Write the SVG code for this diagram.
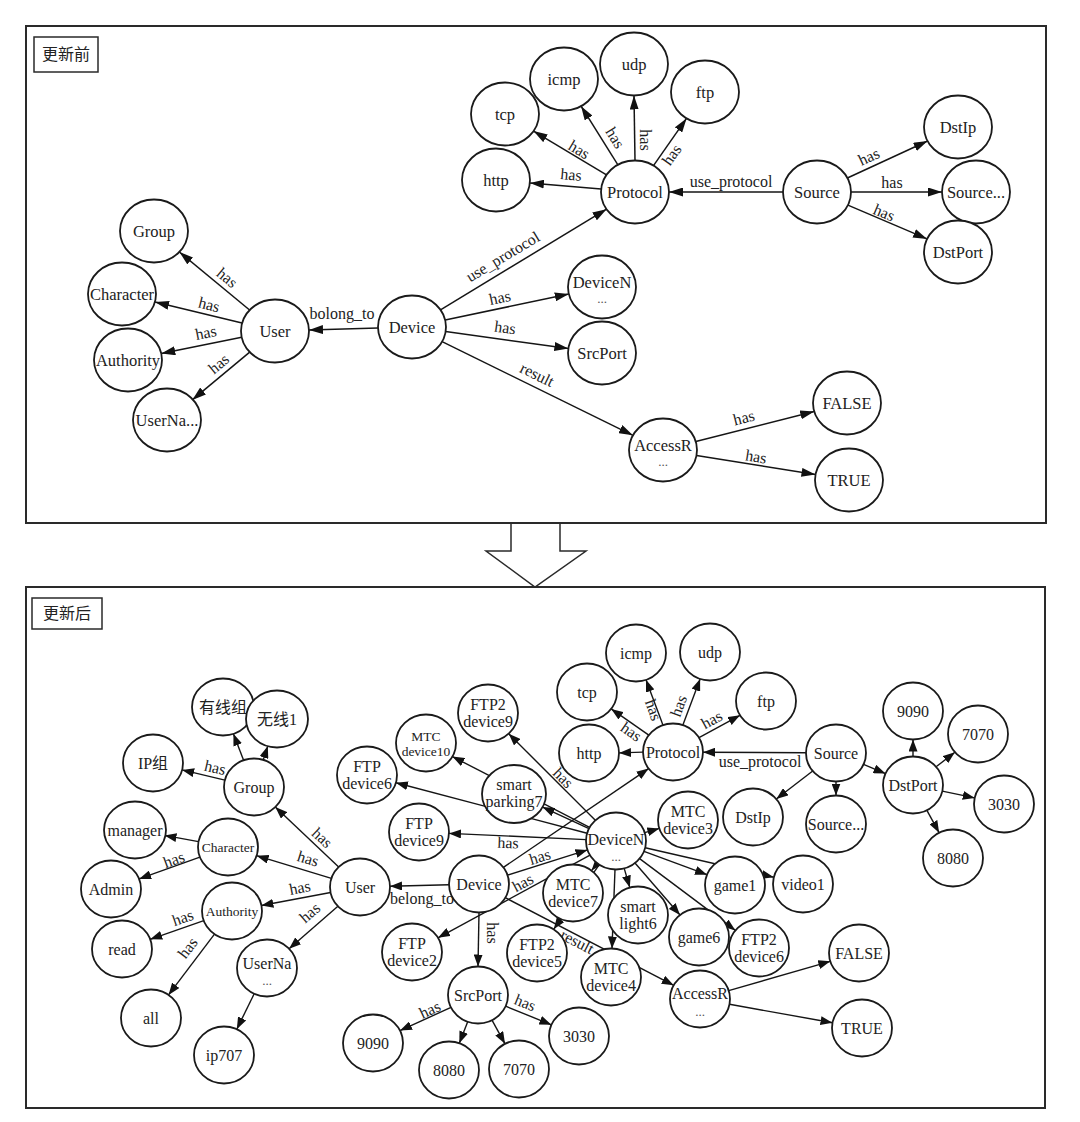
<svg xmlns="http://www.w3.org/2000/svg" width="1080" height="1122" viewBox="0 0 1080 1122">
<defs>
<marker id="ah" markerUnits="userSpaceOnUse" markerWidth="14" markerHeight="9" refX="14" refY="4.5" orient="auto"><path d="M0,0 L14,4.5 L0,9 Z" fill="#111"/></marker>
<marker id="ah2" markerUnits="userSpaceOnUse" markerWidth="12" markerHeight="9" refX="12" refY="4.5" orient="auto"><path d="M0,0 L12,4.5 L0,9 Z" fill="#111"/></marker>
</defs>
<style>
.panel{fill:none;stroke:#2a2a2a;stroke-width:2}
.tag{fill:#fff;stroke:#2a2a2a;stroke-width:1.5}
.tagt{font-family:"Noto Sans CJK SC",sans-serif;font-size:16px;fill:#222;text-anchor:middle}
.n ellipse{fill:#fff;stroke:#1a1a1a;stroke-width:1.8}
.n text{font-family:"Liberation Serif","Noto Sans CJK SC",serif;font-size:16px;fill:#222;text-anchor:middle}
.top .n text{font-size:16.5px}
.n text.sm{font-size:13.5px}
.n text.dots{font-size:13px;fill:#555}
.et line{stroke:#151515;stroke-width:1.5;marker-end:url(#ah)}
.eb line{stroke:#151515;stroke-width:1.4;marker-end:url(#ah2)}
.lbl text{font-family:"Liberation Serif",serif;font-size:16px;fill:#222;text-anchor:middle}
.bigarrow{fill:none;stroke:#2a2a2a;stroke-width:1.5}
</style>
<rect width="1080" height="1122" fill="#fff"/>

<!-- panels -->
<rect class="panel" x="26" y="26" width="1020" height="497"/>
<rect class="panel" x="26" y="587" width="1019" height="521"/>
<polyline class="bigarrow" points="511,523 511,551 486,551 535,587 586,551 560,551 560,523"/>
<g id="tag-before"><rect class="tag" x="34" y="37" width="64" height="35"/><text class="tagt" x="66" y="60">更新前</text></g>
<g id="tag-after"><rect class="tag" x="32" y="598" width="70" height="31"/><text class="tagt" x="67" y="619">更新后</text></g>

<!-- ================= TOP PANEL ================= -->
<g class="top">
<g id="top-connectors" class="et">
<line x1="378" y1="328" x2="309" y2="330"/>
<line x1="249.6" y1="310" x2="179.4" y2="252"/>
<line x1="242" y1="323" x2="155" y2="302"/>
<line x1="241.7" y1="337.3" x2="161.3" y2="353.5"/>
<line x1="249.7" y1="352.1" x2="192.3" y2="399.9"/>
<line x1="440.5" y1="309.8" x2="606.5" y2="209.2"/>
<line x1="445.2" y1="320" x2="568.8" y2="294"/>
<line x1="445.6" y1="331.6" x2="568.4" y2="348.4"/>
<line x1="442.1" y1="341.7" x2="632.9" y2="435.3"/>
<line x1="601.1" y1="189.1" x2="529.9" y2="182.9"/>
<line x1="606.5" y1="174.9" x2="533.5" y2="131.1"/>
<line x1="617.9" y1="164.8" x2="581.1" y2="106.2"/>
<line x1="635" y1="160.5" x2="634" y2="95.5"/>
<line x1="653.5" y1="165.6" x2="686.5" y2="118.4"/>
<line x1="783" y1="192" x2="669" y2="192"/>
<line x1="847.4" y1="178" x2="927.6" y2="141"/>
<line x1="851" y1="192" x2="942" y2="192"/>
<line x1="847.9" y1="205.1" x2="927.1" y2="238.9"/>
<line x1="695.8" y1="441.6" x2="814.2" y2="411.4"/>
<line x1="696.5" y1="455.4" x2="815.5" y2="474.6"/>
</g>
<g id="top-edge-labels" class="lbl">
<text transform="translate(342,314)" y="5">bolong_to</text>
<text transform="translate(227,278) rotate(40)" y="5">has</text>
<text transform="translate(209,305) rotate(14)" y="5">has</text>
<text transform="translate(206,333) rotate(-11)" y="5">has</text>
<text transform="translate(219,364) rotate(-40)" y="5">has</text>
<text transform="translate(503,257) rotate(-31)" y="5">use_protocol</text>
<text transform="translate(500,298) rotate(-12)" y="5">has</text>
<text transform="translate(505,328) rotate(8)" y="5">has</text>
<text transform="translate(537,375) rotate(26)" y="5">result</text>
<text transform="translate(571,175) rotate(5)" y="5">has</text>
<text transform="translate(579,150) rotate(31)" y="5">has</text>
<text transform="translate(615,138) rotate(58)" y="5">has</text>
<text transform="translate(645,140) rotate(90)" y="5">has</text>
<text transform="translate(672,155) rotate(-55)" y="5">has</text>
<text transform="translate(731,182)" y="5">use_protocol</text>
<text transform="translate(869,157) rotate(-25)" y="5">has</text>
<text transform="translate(892,183)" y="5">has</text>
<text transform="translate(884,213) rotate(23)" y="5">has</text>
<text transform="translate(744,418) rotate(-14)" y="5">has</text>
<text transform="translate(756,457) rotate(9)" y="5">has</text>
</g>
<g id="t-group" class="n"><ellipse cx="154" cy="231" rx="34" ry="31.5"/><text x="154" y="237">Group</text></g>
<g id="t-character" class="n"><ellipse cx="122" cy="294" rx="34" ry="31.5"/><text x="122" y="300">Character</text></g>
<g id="t-authority" class="n"><ellipse cx="128" cy="360" rx="34" ry="31.5"/><text x="128" y="366">Authority</text></g>
<g id="t-username" class="n"><ellipse cx="167" cy="420" rx="34" ry="31.5"/><text x="167" y="426">UserNa...</text></g>
<g id="t-user" class="n"><ellipse cx="275" cy="331" rx="34" ry="31.5"/><text x="275" y="337">User</text></g>
<g id="t-device" class="n"><ellipse cx="412" cy="327" rx="34" ry="31.5"/><text x="412" y="333">Device</text></g>
<g id="t-devicen" class="n"><ellipse cx="602" cy="287" rx="34" ry="31.5"/><text x="602" y="288">DeviceN</text><text class="dots" x="602" y="303">...</text></g>
<g id="t-srcport" class="n"><ellipse cx="602" cy="353" rx="34" ry="31.5"/><text x="602" y="359">SrcPort</text></g>
<g id="t-http" class="n"><ellipse cx="496" cy="180" rx="34" ry="31.5"/><text x="496" y="186">http</text></g>
<g id="t-tcp" class="n"><ellipse cx="505" cy="114" rx="34" ry="31.5"/><text x="505" y="120">tcp</text></g>
<g id="t-icmp" class="n"><ellipse cx="564" cy="79" rx="34" ry="31.5"/><text x="564" y="85">icmp</text></g>
<g id="t-udp" class="n"><ellipse cx="634" cy="64" rx="34" ry="31.5"/><text x="634" y="70">udp</text></g>
<g id="t-ftp" class="n"><ellipse cx="705" cy="92" rx="34" ry="31.5"/><text x="705" y="98">ftp</text></g>
<g id="t-protocol" class="n"><ellipse cx="635" cy="192" rx="34" ry="31.5"/><text x="635" y="198">Protocol</text></g>
<g id="t-source" class="n"><ellipse cx="817" cy="192" rx="34" ry="31.5"/><text x="817" y="198">Source</text></g>
<g id="t-dstip" class="n"><ellipse cx="958" cy="127" rx="34" ry="31.5"/><text x="958" y="133">DstIp</text></g>
<g id="t-sourcex" class="n"><ellipse cx="976" cy="192" rx="34" ry="31.5"/><text x="976" y="198">Source...</text></g>
<g id="t-dstport" class="n"><ellipse cx="958" cy="252" rx="34" ry="31.5"/><text x="958" y="258">DstPort</text></g>
<g id="t-accessr" class="n"><ellipse cx="663" cy="450" rx="34" ry="31.5"/><text x="663" y="451">AccessR</text><text class="dots" x="663" y="466">...</text></g>
<g id="t-false" class="n"><ellipse cx="847" cy="403" rx="34" ry="31.5"/><text x="847" y="409">FALSE</text></g>
<g id="t-true" class="n"><ellipse cx="849" cy="480" rx="34" ry="31.5"/><text x="849" y="486">TRUE</text></g>
</g>

<!-- ================= BOTTOM PANEL ================= -->
<g class="bottom">
<g id="bottom-connectors" class="eb">
<line x1="449" y1="884.8" x2="390" y2="886.2"/>
<line x1="503.4" y1="867.4" x2="648.6" y2="768.6"/>
<line x1="507.5" y1="875.1" x2="587.5" y2="849.9"/>
<line x1="479" y1="912.5" x2="478" y2="966.5"/>
<line x1="505.3" y1="897.7" x2="673.7" y2="985.3"/>
<line x1="595.3" y1="820.3" x2="508.7" y2="733.7"/>
<line x1="589.6" y1="827.4" x2="452.4" y2="756.6"/>
<line x1="587.1" y1="833.3" x2="395.9" y2="782.7"/>
<line x1="589" y1="828.6" x2="542.5" y2="807.1"/>
<line x1="586" y1="839.6" x2="449" y2="833.4"/>
<line x1="644.7" y1="832.6" x2="659.3" y2="828.4"/>
<line x1="644" y1="851.3" x2="707" y2="874.7"/>
<line x1="645.2" y1="847.7" x2="773.8" y2="877.3"/>
<line x1="624.2" y1="868.4" x2="629.8" y2="887.6"/>
<line x1="615" y1="869.5" x2="612" y2="948.5"/>
<line x1="635" y1="863" x2="680" y2="915"/>
<line x1="639.6" y1="858.6" x2="735.4" y2="930.4"/>
<line x1="597.5" y1="863.4" x2="591.5" y2="870.6"/>
<line x1="599.3" y1="864.7" x2="553.7" y2="929.3"/>
<line x1="590" y1="855.2" x2="438" y2="937.8"/>
<line x1="338.7" y1="866.9" x2="275.3" y2="807.1"/>
<line x1="331.4" y1="878.3" x2="256.6" y2="855.7"/>
<line x1="330.6" y1="892.5" x2="261.4" y2="905.5"/>
<line x1="337.9" y1="906.3" x2="289.1" y2="948.7"/>
<line x1="224.9" y1="780.1" x2="182.1" y2="769.9"/>
<line x1="243.6" y1="760.3" x2="233.4" y2="733.7"/>
<line x1="263.2" y1="759.9" x2="267.8" y2="746.1"/>
<line x1="198.5" y1="841.6" x2="164.5" y2="835.4"/>
<line x1="199.9" y1="857.1" x2="139.1" y2="878.9"/>
<line x1="203.8" y1="920.7" x2="150.2" y2="939.3"/>
<line x1="214.5" y1="934.1" x2="168.5" y2="994.9"/>
<line x1="254.2" y1="993.8" x2="236.8" y2="1029.2"/>
<line x1="451" y1="1007.4" x2="400" y2="1030.6"/>
<line x1="467.7" y1="1021.8" x2="459.3" y2="1043.2"/>
<line x1="492" y1="1020.2" x2="505" y2="1043.8"/>
<line x1="505.6" y1="1006.2" x2="551.4" y2="1024.8"/>
<line x1="728.7" y1="990.7" x2="830.3" y2="961.3"/>
<line x1="729.5" y1="1004.3" x2="832.5" y2="1022.7"/>
<line x1="643" y1="752.1" x2="619" y2="752.9"/>
<line x1="648.8" y1="735.1" x2="611.2" y2="708.9"/>
<line x1="663" y1="725.2" x2="646" y2="679.8"/>
<line x1="682.9" y1="725.1" x2="700.1" y2="678.9"/>
<line x1="699" y1="737.7" x2="740" y2="715.3"/>
<line x1="806" y1="752.8" x2="703" y2="752.2"/>
<line x1="812.7" y1="771" x2="776.3" y2="799"/>
<line x1="836" y1="781.5" x2="836" y2="795.5"/>
<line x1="863.5" y1="764.4" x2="885.5" y2="773.6"/>
<line x1="913" y1="756.5" x2="913" y2="739.5"/>
<line x1="936.1" y1="766.8" x2="954.9" y2="752.2"/>
<line x1="942.3" y1="791.1" x2="974.7" y2="797.9"/>
<line x1="926.9" y1="810.3" x2="939.1" y2="832.7"/>
</g>
<g id="bottom-edge-labels" class="lbl">
<text transform="translate(422,899)" y="5">belong_to</text>
<text transform="translate(540,857) rotate(-17)" y="5">has</text>
<text transform="translate(508,843) rotate(2)" y="5">has</text>
<text transform="translate(523,883) rotate(-28.5)" y="5">has</text>
<text transform="translate(492,933) rotate(90)" y="5">has</text>
<text transform="translate(577,942) rotate(27.5)" y="5">result</text>
<text transform="translate(563,778) rotate(45)" y="5">has</text>
<text transform="translate(322,838) rotate(43)" y="5">has</text>
<text transform="translate(308,859) rotate(17)" y="5">has</text>
<text transform="translate(300,888) rotate(-11)" y="5">has</text>
<text transform="translate(310,913) rotate(-41)" y="5">has</text>
<text transform="translate(215,768) rotate(13)" y="5">has</text>
<text transform="translate(174,860) rotate(-20)" y="5">has</text>
<text transform="translate(183,918) rotate(-19)" y="5">has</text>
<text transform="translate(188,948) rotate(-53)" y="5">has</text>
<text transform="translate(430,1010) rotate(-25)" y="5">has</text>
<text transform="translate(525,1003) rotate(22)" y="5">has</text>
<text transform="translate(631,732) rotate(35)" y="5">has</text>
<text transform="translate(653,710) rotate(70)" y="5">has</text>
<text transform="translate(679,706) rotate(-70)" y="5">has</text>
<text transform="translate(712,720) rotate(-29)" y="5">has</text>
<text transform="translate(760,762)" y="5">use_protocol</text>
</g>
<g id="b-youxianzu" class="n"><ellipse cx="223" cy="707" rx="31" ry="28.5"/><text x="223" y="713">有线组</text></g>
<g id="b-wuxian1" class="n"><ellipse cx="277" cy="719" rx="31" ry="28.5"/><text x="277" y="725">无线1</text></g>
<g id="b-ipzu" class="n"><ellipse cx="153" cy="763" rx="30" ry="28.5"/><text x="153" y="769">IP组</text></g>
<g id="b-group" class="n"><ellipse cx="254" cy="787" rx="30" ry="28.5"/><text x="254" y="793">Group</text></g>
<g id="b-manager" class="n"><ellipse cx="135" cy="830" rx="31" ry="28.5"/><text x="135" y="836">manager</text></g>
<g id="b-character" class="n"><ellipse cx="228" cy="847" rx="30" ry="28.5"/><text class="sm" x="228" y="852">Character</text></g>
<g id="b-admin" class="n"><ellipse cx="111" cy="889" rx="30" ry="28.5"/><text x="111" y="895">Admin</text></g>
<g id="b-user" class="n"><ellipse cx="360" cy="887" rx="30" ry="28.5"/><text x="360" y="893">User</text></g>
<g id="b-authority" class="n"><ellipse cx="232" cy="911" rx="30" ry="28.5"/><text class="sm" x="232" y="916">Authority</text></g>
<g id="b-read" class="n"><ellipse cx="122" cy="949" rx="30" ry="28.5"/><text x="122" y="955">read</text></g>
<g id="b-all" class="n"><ellipse cx="151" cy="1018" rx="30" ry="28.5"/><text x="151" y="1024">all</text></g>
<g id="b-username" class="n"><ellipse cx="267" cy="968" rx="30" ry="28.5"/><text x="267" y="969">UserNa</text><text class="dots" x="267" y="985">...</text></g>
<g id="b-ip707" class="n"><ellipse cx="224" cy="1055" rx="30" ry="28.5"/><text x="224" y="1061">ip707</text></g>
<g id="b-device" class="n"><ellipse cx="479" cy="884" rx="30" ry="28.5"/><text x="479" y="890">Device</text></g>
<g id="b-ftpdevice2" class="n"><ellipse cx="412" cy="952" rx="30" ry="28.5"/><text x="412" y="949">FTP</text><text x="412" y="966">device2</text></g>
<g id="b-srcport" class="n"><ellipse cx="478" cy="995" rx="30" ry="28.5"/><text x="478" y="1001">SrcPort</text></g>
<g id="b-s9090" class="n"><ellipse cx="373" cy="1043" rx="30" ry="28.5"/><text x="373" y="1049">9090</text></g>
<g id="b-s8080" class="n"><ellipse cx="449" cy="1070" rx="30" ry="28.5"/><text x="449" y="1076">8080</text></g>
<g id="b-s7070" class="n"><ellipse cx="519" cy="1069" rx="30" ry="28.5"/><text x="519" y="1075">7070</text></g>
<g id="b-s3030" class="n"><ellipse cx="579" cy="1036" rx="30" ry="28.5"/><text x="579" y="1042">3030</text></g>
<g id="b-ftp2device5" class="n"><ellipse cx="537" cy="953" rx="30" ry="28.5"/><text x="537" y="950">FTP2</text><text x="537" y="967">device5</text></g>
<g id="b-mtcdevice7" class="n"><ellipse cx="573" cy="893" rx="30" ry="28.5"/><text x="573" y="890">MTC</text><text x="573" y="907">device7</text></g>
<g id="b-mtcdevice4" class="n"><ellipse cx="611" cy="977" rx="30" ry="28.5"/><text x="611" y="974">MTC</text><text x="611" y="991">device4</text></g>
<g id="b-smartlight6" class="n"><ellipse cx="638" cy="915" rx="30" ry="28.5"/><text x="638" y="912">smart</text><text x="638" y="929">light6</text></g>
<g id="b-game6" class="n"><ellipse cx="699" cy="937" rx="30" ry="28.5"/><text x="699" y="943">game6</text></g>
<g id="b-ftp2device6" class="n"><ellipse cx="759" cy="948" rx="30" ry="28.5"/><text x="759" y="945">FTP2</text><text x="759" y="962">device6</text></g>
<g id="b-accessr" class="n"><ellipse cx="700" cy="999" rx="30" ry="28.5"/><text x="700" y="999">AccessR</text><text class="dots" x="700" y="1016">...</text></g>
<g id="b-false" class="n"><ellipse cx="859" cy="953" rx="30" ry="28.5"/><text x="859" y="959">FALSE</text></g>
<g id="b-true" class="n"><ellipse cx="862" cy="1028" rx="30" ry="28.5"/><text x="862" y="1034">TRUE</text></g>
<g id="b-smartparking7" class="n"><ellipse cx="514" cy="794" rx="32" ry="29"/><text x="514" y="790">smart</text><text x="514" y="807">parking7</text></g>
<g id="b-devicen" class="n"><ellipse cx="616" cy="841" rx="30" ry="28.5"/><text x="616" y="844.5">DeviceN</text><text class="dots" x="616" y="861">...</text></g>
<g id="b-mtcdevice3" class="n"><ellipse cx="688" cy="820" rx="30" ry="28.5"/><text x="688" y="817">MTC</text><text x="688" y="834">device3</text></g>
<g id="b-game1" class="n"><ellipse cx="735" cy="885" rx="30" ry="28.5"/><text x="735" y="891">game1</text></g>
<g id="b-video1" class="n"><ellipse cx="803" cy="884" rx="30" ry="28.5"/><text x="803" y="890">video1</text></g>
<g id="b-ftpdevice9" class="n"><ellipse cx="419" cy="832" rx="30" ry="28.5"/><text x="419" y="829">FTP</text><text x="419" y="846">device9</text></g>
<g id="b-ftpdevice6" class="n"><ellipse cx="367" cy="775" rx="30" ry="28.5"/><text x="367" y="772">FTP</text><text x="367" y="789">device6</text></g>
<g id="b-mtcdevice10" class="n"><ellipse cx="426" cy="743" rx="30" ry="28.5"/><text class="sm" x="426" y="741">MTC</text><text class="sm" x="426" y="756">device10</text></g>
<g id="b-ftp2device9" class="n"><ellipse cx="488" cy="713" rx="30" ry="28.5"/><text x="488" y="710">FTP2</text><text x="488" y="727">device9</text></g>
<g id="b-http" class="n"><ellipse cx="589" cy="753" rx="30" ry="28.5"/><text x="589" y="759">http</text></g>
<g id="b-tcp" class="n"><ellipse cx="587" cy="692" rx="30" ry="28.5"/><text x="587" y="698">tcp</text></g>
<g id="b-icmp" class="n"><ellipse cx="636" cy="653" rx="30" ry="28.5"/><text x="636" y="659">icmp</text></g>
<g id="b-udp" class="n"><ellipse cx="710" cy="652" rx="30" ry="28.5"/><text x="710" y="658">udp</text></g>
<g id="b-ftp" class="n"><ellipse cx="766" cy="701" rx="30" ry="28.5"/><text x="766" y="707">ftp</text></g>
<g id="b-protocol" class="n"><ellipse cx="673" cy="752" rx="30" ry="28.5"/><text x="673" y="758">Protocol</text></g>
<g id="b-source" class="n"><ellipse cx="836" cy="753" rx="30" ry="28.5"/><text x="836" y="759">Source</text></g>
<g id="b-dstip" class="n"><ellipse cx="753" cy="817" rx="30" ry="28.5"/><text x="753" y="823">DstIp</text></g>
<g id="b-sourcex" class="n"><ellipse cx="836" cy="824" rx="30" ry="28.5"/><text x="836" y="830">Source...</text></g>
<g id="b-dstport" class="n"><ellipse cx="913" cy="785" rx="30" ry="28.5"/><text x="913" y="791">DstPort</text></g>
<g id="b-d9090" class="n"><ellipse cx="913" cy="711" rx="30" ry="28.5"/><text x="913" y="717">9090</text></g>
<g id="b-d7070" class="n"><ellipse cx="978" cy="734" rx="30" ry="28.5"/><text x="978" y="740">7070</text></g>
<g id="b-d3030" class="n"><ellipse cx="1004" cy="804" rx="30" ry="28.5"/><text x="1004" y="810">3030</text></g>
<g id="b-d8080" class="n"><ellipse cx="953" cy="858" rx="30" ry="28.5"/><text x="953" y="864">8080</text></g>
</g>
</svg>
